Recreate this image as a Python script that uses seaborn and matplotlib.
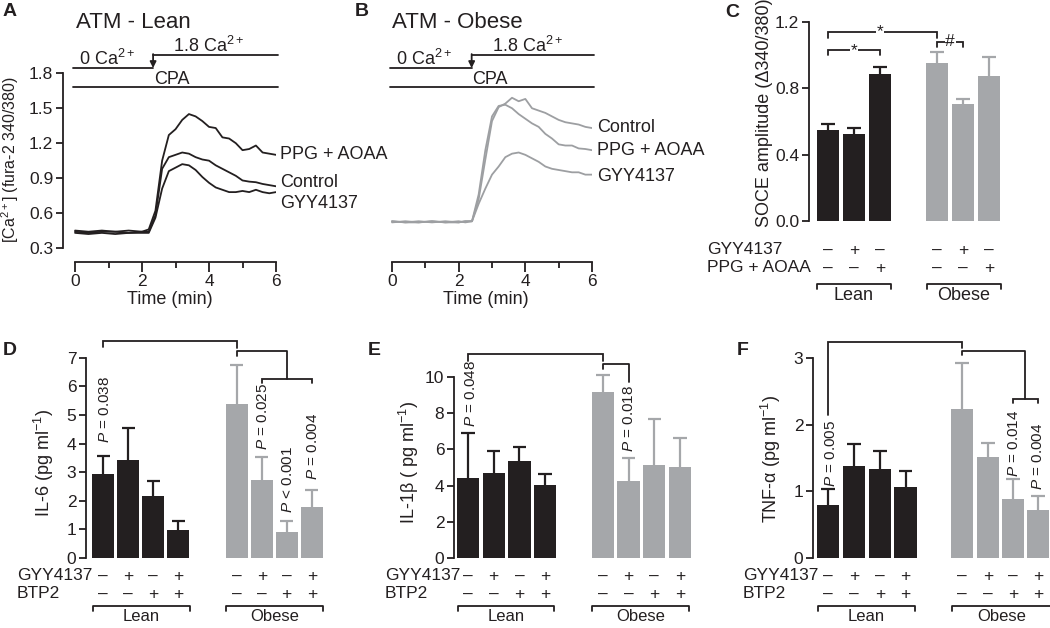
import numpy as np
import pandas as pd
import seaborn as sns
import matplotlib.pyplot as plt
from matplotlib.ticker import FormatStrFormatter
from matplotlib.transforms import blended_transform_factory, IdentityTransform

sns.set_theme(style="ticks")
plt.rcParams['font.family'] = ['Liberation Sans', 'DejaVu Sans']
plt.rcParams['mathtext.fontset'] = 'custom'
plt.rcParams['mathtext.rm'] = 'Liberation Sans'
plt.rcParams['mathtext.it'] = 'Liberation Sans:italic'
plt.rcParams['mathtext.bf'] = 'Liberation Sans:bold'
plt.rcParams['mathtext.default'] = 'regular'

# ---- data: Ca2+ traces (fura-2 340/380), time in min ----
t_trace = [0, 0.4, 0.8, 1.2, 1.6, 2.0, 2.2, 2.4, 2.6, 2.8, 3.0, 3.2, 3.4,
           3.6, 3.8, 4.0, 4.2, 4.4, 4.6, 4.8, 5.0, 5.2, 5.4, 5.6, 5.8, 6.0]

lean_ppg = [0.45, 0.44, 0.45, 0.44, 0.45, 0.44, 0.46, 0.62, 1.05, 1.27, 1.32, 1.40, 1.45,
            1.43, 1.39, 1.34, 1.33, 1.25, 1.24, 1.20, 1.14, 1.15, 1.18, 1.12, 1.11, 1.10]
lean_control = [0.44, 0.43, 0.44, 0.44, 0.43, 0.44, 0.44, 0.58, 0.98, 1.08, 1.10, 1.12, 1.11,
                1.08, 1.06, 1.05, 1.01, 0.98, 0.95, 0.92, 0.88, 0.87, 0.865, 0.85, 0.84, 0.83]
lean_gyy = [0.43, 0.42, 0.43, 0.42, 0.43, 0.43, 0.43, 0.56, 0.81, 0.96, 0.99, 1.02, 1.01,
            0.97, 0.91, 0.86, 0.82, 0.80, 0.78, 0.78, 0.79, 0.78, 0.80, 0.78, 0.77, 0.78]

obese_control = [0.53, 0.52, 0.53, 0.52, 0.53, 0.52, 0.53, 0.53, 0.72, 1.06, 1.39, 1.51, 1.54,
                 1.59, 1.56, 1.58, 1.50, 1.48, 1.46, 1.43, 1.40, 1.38, 1.37, 1.36, 1.34, 1.33]
obese_ppg = [0.52, 0.53, 0.52, 0.53, 0.52, 0.53, 0.52, 0.53, 0.76, 1.14, 1.43, 1.52, 1.53,
             1.50, 1.45, 1.41, 1.37, 1.34, 1.28, 1.24, 1.19, 1.18, 1.18, 1.155, 1.15, 1.14]
obese_gyy = [0.53, 0.52, 0.52, 0.53, 0.52, 0.52, 0.53, 0.53, 0.68, 0.81, 0.93, 1.00, 1.08,
             1.11, 1.12, 1.10, 1.07, 1.04, 1.00, 0.98, 0.97, 0.96, 0.95, 0.95, 0.93, 0.93]

# ---- data: SOCE amplitude (mean, sem) ----
soce_lean = [0.551, 0.527, 0.884]
soce_lean_sem = [0.036, 0.034, 0.045]
soce_obese = [0.953, 0.706, 0.872]
soce_obese_sem = [0.066, 0.032, 0.117]

# ---- data: cytokines (pg/ml) ----
il6_lean = [2.94, 3.44, 2.18, 0.97]
il6_lean_sem = [0.63, 1.09, 0.52, 0.32]
il6_obese = [5.39, 2.73, 0.91, 1.79]
il6_obese_sem = [1.35, 0.79, 0.38, 0.59]

il1b_lean = [4.42, 4.71, 5.34, 4.03]
il1b_lean_sem = [2.50, 1.22, 0.77, 0.61]
il1b_obese = [9.17, 4.27, 5.16, 5.03]
il1b_obese_sem = [0.92, 1.27, 2.50, 1.62]

tnf_lean = [0.79, 1.38, 1.33, 1.07]
tnf_lean_sem = [0.25, 0.33, 0.28, 0.24]
tnf_obese = [2.23, 1.51, 0.89, 0.72]
tnf_obese_sem = [0.70, 0.21, 0.29, 0.21]

gyy_signs_c = ['–', '+', '–']
ppg_signs_c = ['–', '–', '+']
gyy_signs = ['–', '+', '–', '+']
btp2_signs = ['–', '–', '+', '+']

BLACK = '#231f20'
GRAY = '#a5a7aa'
FS = 12.5
LFS = 13
LW = 1.3

W, H = 1050, 628
fig = plt.figure(figsize=(W / 100, H / 100), dpi=100)
fig.patch.set_facecolor('white')


def add_ax(l, t, r, b):
    return fig.add_axes([l / W, 1 - b / H, (r - l) / W, (b - t) / H])


def style_ax(ax):
    for s in ['top', 'right']:
        ax.spines[s].set_visible(False)
    for s in ['left', 'bottom']:
        ax.spines[s].set_linewidth(LW)
        ax.spines[s].set_color(BLACK)
    ax.tick_params(axis='both', which='major', length=5, width=LW, colors=BLACK,
                   labelsize=FS, pad=2)
    ax.tick_params(axis='both', which='minor', length=3, width=LW, colors=BLACK)
    ax.set_facecolor('none')


def px_trans(ax):
    return blended_transform_factory(ax.transData, IdentityTransform())


def ylabel_at(ax, text, right_px, y_px, size=LFS):
    # y label anchor = right edge of the rotated text
    ax.set_ylabel(text, fontsize=size, color=BLACK)
    ax.yaxis.set_label_coords(right_px, H - y_px, transform=IdentityTransform())


# ---------------- A / B traces ----------------
def ca_protocol(ax, step, t0_text, t18_text, cpa_text):
    kw = dict(color=BLACK, lw=LW, clip_on=False)
    ax.plot([-0.06, step], [1.845, 1.845], **kw)
    ax.plot([step, 6.05], [1.96, 1.96], **kw)
    ax.plot([-0.06, 6.05], [1.68, 1.68], **kw)
    ax.annotate('', xy=(step, 1.845), xytext=(step, 1.965),
                arrowprops=dict(arrowstyle='-|>', color=BLACK, lw=LW, mutation_scale=9,
                                shrinkA=0, shrinkB=0), annotation_clip=False)
    ax.text(t0_text, 1.87, '0 Ca$^{2+}$', ha='center', va='baseline', fontsize=LFS, color=BLACK)
    ax.text(t18_text, 1.985, '1.8 Ca$^{2+}$', ha='center', va='baseline', fontsize=LFS, color=BLACK)
    ax.text(cpa_text, 1.71, 'CPA', ha='center', va='baseline', fontsize=LFS, color=BLACK)


def trace_axes(ax, traces, color, labels_y, label_x):
    for vals in traces:
        sns.lineplot(x=t_trace, y=vals, color=color, linewidth=1.3, estimator=None,
                     sort=False, ax=ax)
    for text, y in labels_y:
        ax.text(label_x, y, text, va='center', ha='left', fontsize=13, color=BLACK,
                clip_on=False)
    style_ax(ax)
    ax.set_xlim(-0.36, 6.0)
    ax.set_ylim(0.18, 2.0)
    ax.spines['bottom'].set_bounds(0, 6)
    ax.set_xticks([0, 2, 4, 6])
    ax.set_xticks([1, 3, 5], minor=True)
    ax.tick_params(axis='x', which='major', length=7)
    ax.tick_params(axis='x', which='minor', length=4)
    ax.set_xlabel('Time (min)', fontsize=LFS, color=BLACK, labelpad=1)


axA = add_ax(63, 50, 276, 262)
trace_axes(axA, [lean_ppg, lean_control, lean_gyy], BLACK,
           [('PPG + AOAA', 1.10), ('Control', 0.86), ('GYY4137', 0.686)], 6.12)
axA.spines['left'].set_bounds(0.3, 1.8)
axA.set_yticks([0.3, 0.6, 0.9, 1.2, 1.5, 1.8])
axA.yaxis.set_major_formatter(FormatStrFormatter('%.1f'))
ylabel_at(axA, '[Ca$^{2+}$] (fura-2 340/380)', 21, 160, size=11.5)
ca_protocol(axA, 2.33, 0.96, 3.98, 2.9)

axB = add_ax(380, 50, 592, 262)
trace_axes(axB, [obese_control, obese_ppg, obese_gyy], '#9d9fa2',
           [('Control', 1.337), ('PPG + AOAA', 1.14), ('GYY4137', 0.917)], 6.15)
axB.spines['left'].set_visible(False)
axB.set_yticks([])
ca_protocol(axB, 2.39, 0.97, 4.08, 2.93)

fig.text(76 / W, 1 - 28 / H, 'ATM - Lean', fontsize=16, va='baseline', color=BLACK)
fig.text(392 / W, 1 - 28 / H, 'ATM - Obese', fontsize=16, va='baseline', color=BLACK)


# ---------------- bar panels ----------------
def bars(ax, pos_lean, pos_obese, lean, lean_sem, obese, obese_sem):
    for pos, vals, sem, col in [(pos_lean, lean, lean_sem, BLACK),
                                (pos_obese, obese, obese_sem, GRAY)]:
        sns.barplot(x=pos, y=vals, native_scale=True, color=col, saturation=1,
                    width=0.87, errorbar=None, linewidth=0, ax=ax)
        tops = np.array(vals) + np.array(sem)
        ax.vlines(pos, vals, tops, color=col, lw=1.6, clip_on=False)
        ax.hlines(tops, np.array(pos) - 0.26, np.array(pos) + 0.26, color=col, lw=1.6,
                  clip_on=False)
    style_ax(ax)
    ax.spines['bottom'].set_visible(False)
    ax.tick_params(axis='x', which='both', length=0, labelbottom=False)
    ax.set_xlabel('')


def bracket(ax, x1, x2, y, d1, d2):
    ax.plot([x1, x1, x2, x2], [y - d1, y, y, y - d2], color=BLACK, lw=LW, clip_on=False,
            solid_joinstyle='miter')


def treatment_rows(ax, positions, rows, row_px, label_px, groups, bracket_px, gfs=LFS):
    tr = px_trans(ax)
    for (label, signs), py in zip(rows, row_px):
        fig.text(label_px / W, 1 - py / H, label, va='center', ha='left', fontsize=FS,
                 color=BLACK)
        for x, s in zip(positions, signs):
            ax.text(x, H - py, s, transform=tr, ha='center', va='center', fontsize=FS,
                    color=BLACK, clip_on=False)
    yb = H - bracket_px
    for name, x1, x2 in groups:
        ax.plot([x1, x1, x2, x2], [yb - 5, yb, yb, yb - 5], transform=tr, color=BLACK,
                lw=LW, clip_on=False)
        ax.text((x1 + x2) / 2, yb - 3, name, transform=tr, ha='center', va='top',
                fontsize=gfs, color=BLACK, clip_on=False)


def p_label(ax, x, bottom_px, text):
    ax.text(x, H - bottom_px, text, transform=px_trans(ax), rotation=90, ha='center',
            va='bottom', fontsize=11, color=BLACK, clip_on=False)


# C
axC = add_ax(809, 14, 1005, 221)
posC_lean = [0, 1, 2]
posC_obese = [4.2, 5.2, 6.2]
bars(axC, posC_lean, posC_obese, soce_lean, soce_lean_sem, soce_obese, soce_obese_sem)
axC.set_xlim(-0.73, 6.81)
axC.set_ylim(0, 1.248)
axC.spines['left'].set_bounds(0, 1.2)
axC.set_yticks([0, 0.4, 0.8, 1.2])
axC.yaxis.set_major_formatter(FormatStrFormatter('%.1f'))
ylabel_at(axC, 'SOCE amplitude (Δ340/380)', 773, 113)
bracket(axC, 0, 4.2, 1.14, 0.035, 0.035)
bracket(axC, 0, 2, 1.03, 0.03, 0.03)
bracket(axC, 4.2, 5.2, 1.08, 0.03, 0.03)
for x, y, s in [(2.0, 1.14, '*'), (1.0, 1.03, '*'), (4.7, 1.08, '#')]:
    axC.text(x, y, s, ha='center', va='center', fontsize=FS, color=BLACK,
             bbox=dict(facecolor='white', edgecolor='none', pad=0.5))
treatment_rows(axC, posC_lean + posC_obese,
               [('GYY4137', gyy_signs_c * 2), ('PPG + AOAA', ppg_signs_c * 2)],
               [250, 268], 707, [('Lean', -0.42, 2.42), ('Obese', 3.8, 6.65)], 284)

# D
axD = add_ax(86, 335, 325, 558)
posD_lean = [0, 1, 2, 3]
posD_obese = [5.35, 6.35, 7.35, 8.35]
bars(axD, posD_lean, posD_obese, il6_lean, il6_lean_sem, il6_obese, il6_obese_sem)
axD.set_xlim(-0.68, 8.88)
axD.set_ylim(0, 7.8)
axD.spines['left'].set_bounds(0, 7)
axD.set_yticks(range(8))
ylabel_at(axD, 'IL-6 (pg ml$^{-1}$)', 56, 463)
bracket(axD, 0, 5.35, 7.59, 0.2, 0.24)
axD.plot([5.35, 5.35, 7.35, 7.35], [7.06, 7.24, 7.24, 6.26], color=BLACK, lw=LW,
         clip_on=False)
bracket(axD, 6.35, 8.35, 6.26, 0.14, 0.14)
p_label(axD, 0.08, 443, '$\\mathit{P}$ = 0.038')
p_label(axD, 6.4, 450, '$\\mathit{P}$ = 0.025')
p_label(axD, 7.4, 513, '$\\mathit{P}$ < 0.001')
p_label(axD, 8.4, 480, '$\\mathit{P}$ = 0.004')
treatment_rows(axD, posD_lean + posD_obese,
               [('GYY4137', gyy_signs * 2), ('BTP2', btp2_signs * 2)],
               [576, 594], 17, [('Lean', -0.4, 3.48), ('Obese', 4.9, 8.8)], 606, gfs=12)

# E
axE = add_ax(454, 348, 692, 558)
posE_lean = [0, 1, 2, 3]
posE_obese = [5.25, 6.25, 7.25, 8.25]
bars(axE, posE_lean, posE_obese, il1b_lean, il1b_lean_sem, il1b_obese, il1b_obese_sem)
axE.set_xlim(-0.545, 8.72)
axE.set_ylim(0, 11.6)
axE.spines['left'].set_bounds(0, 10)
axE.set_yticks([0, 2, 4, 6, 8, 10])
ylabel_at(axE, 'IL-1β ( pg ml$^{-1}$)', 421, 462)
bracket(axE, 0, 5.25, 11.29, 0.4, 0.4)
axE.plot([5.25, 5.25, 6.25, 6.25], [10.46, 10.74, 10.74, 9.72], color=BLACK, lw=LW,
         clip_on=False)
p_label(axE, 0.12, 427, '$\\mathit{P}$ = 0.048')
p_label(axE, 6.25, 452, '$\\mathit{P}$ = 0.018')
treatment_rows(axE, posE_lean + posE_obese,
               [('GYY4137', gyy_signs * 2), ('BTP2', btp2_signs * 2)],
               [576, 594], 385, [('Lean', -0.39, 3.35), ('Obese', 4.83, 8.6)], 606, gfs=12)

# F
axF = add_ax(813, 336, 1050, 558)
posF_lean = [0, 1, 2, 3]
posF_obese = [5.17, 6.17, 7.14, 8.1]
bars(axF, posF_lean, posF_obese, tnf_lean, tnf_lean_sem, tnf_obese, tnf_obese_sem)
axF.set_xlim(-0.58, 8.57)
axF.set_ylim(0, 3.33)
axF.spines['left'].set_bounds(0, 3)
axF.set_yticks([0, 1, 2, 3])
ylabel_at(axF, 'TNF-α (pg ml$^{-1}$)', 783, 459)
bracket(axF, 0, 5.17, 3.24, 1.09, 0.09)
axF.plot([5.17, 5.17, 7.62, 7.62], [3.04, 3.10, 3.10, 2.39], color=BLACK, lw=LW,
         clip_on=False)
bracket(axF, 7.14, 8.1, 2.39, 0.07, 0.07)
p_label(axF, 0.12, 487, '$\\mathit{P}$ = 0.005')
p_label(axF, 7.18, 477, '$\\mathit{P}$ = 0.014')
p_label(axF, 8.1, 490, '$\\mathit{P}$ = 0.004')
treatment_rows(axF, posF_lean + posF_obese,
               [('GYY4137', gyy_signs * 2), ('BTP2', btp2_signs * 2)],
               [576, 594], 743, [('Lean', -0.39, 3.35), ('Obese', 4.8, 8.6)], 606, gfs=12)

# panel letters
for letter, x, y in [('A', 3, 3), ('B', 355, 3), ('C', 725, 4),
                     ('D', 3, 342), ('E', 368, 342), ('F', 737, 342)]:
    fig.text(x / W, 1 - y / H, letter, fontsize=14, fontweight='bold', va='top',
             ha='left', color=BLACK)

fig.savefig('out.png', dpi=100, facecolor='white')
